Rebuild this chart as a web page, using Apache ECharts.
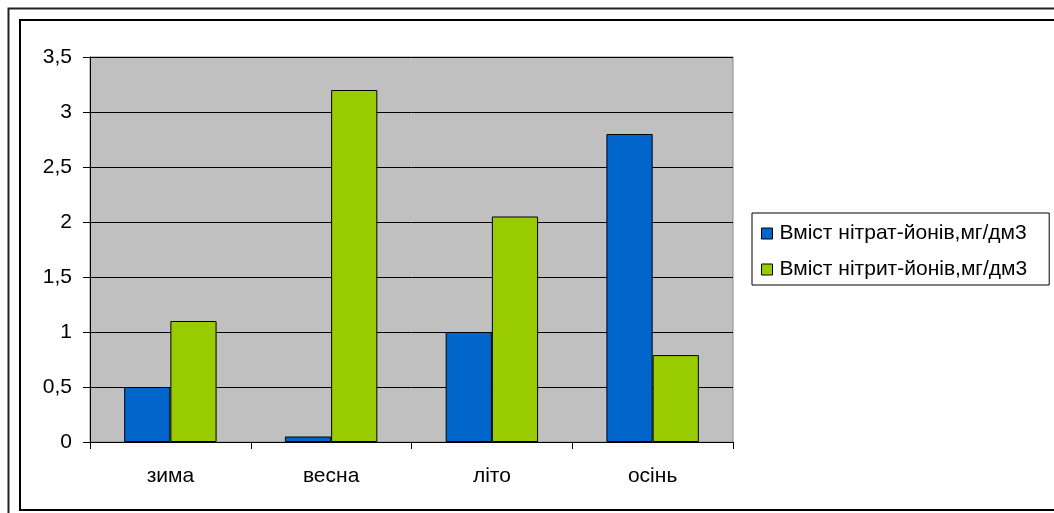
<!DOCTYPE html>
<html>
<head>
<meta charset="utf-8">
<script src="https://cdn.jsdelivr.net/npm/echarts@6/dist/echarts.min.js"></script>
<style>
  html, body { margin: 0; padding: 0; background: #fff; }
  #chart { width: 1054px; height: 513px; }
</style>
</head>
<body>
<div id="chart"></div>
<script>
// Seasonal content of nitrate and nitrite ions, mg/dm3
const seasons = ['зима', 'весна', 'літо', 'осінь'];
const nitrate = [0.5, 0.05, 1.0, 2.8];
const nitrite = [1.1, 3.2, 2.05, 0.79];
const seriesNames = ['Вміст нітрат-йонів,мг/дм3', 'Вміст нітрит-йонів,мг/дм3'];
const yTicks = { min: 0, max: 3.5, step: 0.5 };

const font = '"Liberation Sans", Arial, sans-serif';
const chart = echarts.init(document.getElementById('chart'), null, { renderer: 'canvas' });

chart.setOption({
  animation: false,
  backgroundColor: '#fff',
  textStyle: { fontFamily: font },
  graphic: [
    { type: 'rect', silent: true, z: 0,
      shape: { x: 8.5, y: 8.5, width: 1200, height: 700 },
      style: { fill: 'none', stroke: '#222', lineWidth: 2 } },
    { type: 'rect', silent: true, z: 0,
      shape: { x: 20, y: 20, width: 1200, height: 490 },
      style: { fill: 'none', stroke: '#000', lineWidth: 2 } }
  ],
  grid: {
    left: 90, top: 57, right: 321, bottom: 71,
    show: true, backgroundColor: '#C0C0C0', borderColor: '#8a8a8a', borderWidth: 1
  },
  legend: {
    orient: 'vertical',
    left: 752, top: 213,
    padding: [10, 22, 5, 9],
    itemGap: 15,
    itemWidth: 11, itemHeight: 11,
    icon: 'rect',
    borderColor: '#000', borderWidth: 1,
    backgroundColor: '#fff',
    textStyle: { fontSize: 21, color: '#000', fontFamily: font, padding: [0, 0, 0, 2] },
    itemStyle: { borderColor: '#000', borderWidth: 1 },
    data: seriesNames
  },
  xAxis: {
    type: 'category',
    data: seasons,
    boundaryGap: true,
    axisLine: { show: true, lineStyle: { color: '#000', width: 1 } },
    axisTick: { show: true, inside: false, length: 7, lineStyle: { color: '#000' } },
    axisLabel: { fontSize: 21, color: '#000', margin: 24, fontFamily: font },
    splitLine: { show: false }
  },
  yAxis: {
    type: 'value',
    min: yTicks.min, max: yTicks.max, interval: yTicks.step,
    axisLine: { show: true, lineStyle: { color: '#000', width: 1 } },
    axisTick: { show: true, inside: false, length: 7, lineStyle: { color: '#000' } },
    axisLabel: {
      fontSize: 21, color: '#000', margin: 18, fontFamily: font,
      formatter: v => String(v).replace('.', ',')
    },
    splitLine: { show: true, lineStyle: { color: '#000', width: 1 } }
  },
  series: [
    {
      name: seriesNames[0], type: 'bar', data: nitrate,
      barGap: '0%', barCategoryGap: '42.5%',
      itemStyle: { color: '#0066CC', borderColor: '#000', borderWidth: 1 }
    },
    {
      name: seriesNames[1], type: 'bar', data: nitrite,
      barGap: '0%', barCategoryGap: '42.5%',
      itemStyle: { color: '#99CC00', borderColor: '#000', borderWidth: 1 }
    }
  ]
});
</script>
</body>
</html>
